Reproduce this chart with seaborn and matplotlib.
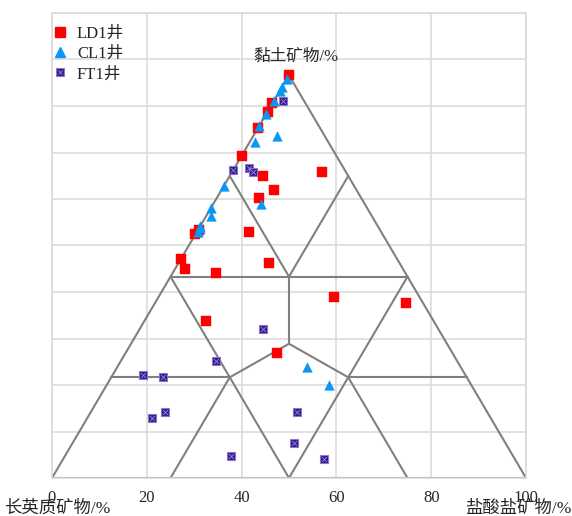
import numpy as np
import pandas as pd
import matplotlib
matplotlib.use("Agg")
import matplotlib.pyplot as plt
import seaborn as sns
from matplotlib.lines import Line2D

# ---- data: ternary compositions (%) : clay, carbonate ; felsic = 100 - clay - carbonate
ld1_clay = [100, 93, 91, 87, 80, 76, 75, 71.5, 69.5, 61, 60.5, 61.5, 54.5, 52, 51, 53.5, 39, 31, 45, 43.5]
ld1_carb = [0, 0, 0, 0, 0, 19, 7, 11, 9, 11, 0, 0.3, 0, 2, 9, 19, 13, 32, 37, 53]
cl1_clay = [99, 97, 96, 93.5, 90.5, 87.5, 83.5, 85, 72.5, 68, 67, 65, 62.5, 62, 61, 27.5, 23]
cl1_carb = [0, 0, 0, 0, 0, 0, 1, 5, 0, 10, 0, 1, 0, 0.3, 0.3, 40, 47]
ft1_clay = [93.5, 76.5, 77, 76, 37, 29, 25.5, 25, 15, 16.5, 5.5, 16.5, 8.7, 4.7]
ft1_carb = [2, 0, 3, 4.5, 26, 20, 6.5, 11, 13.5, 15.5, 35, 43.5, 46.7, 55]

series_names = ["LD1井", "CL1井", "FT1井"]
x_ticks = [0, 20, 40, 60, 80, 100]
label_top = "黏土矿物/%"
label_left = "长英质矿物/%"
label_right = "盐酸盐矿物/%"

# classification boundaries, as (clay, carbonate) endpoints
c3 = 100 / 3
boundaries = [
    [(100, 0), (0, 0), (0, 100), (100, 0)],
    [(50, 0), (50, 50)],
    [(25, 0), (25, 25)],
    [(25, 50), (25, 75)],
    [(50, 0), (0, 50)],
    [(50, 50), (0, 50)],
    [(0, 25), (25, 25)],
    [(0, 75), (25, 50)],
    [(50, 25), (c3, c3)],
    [(c3, c3), (25, 25)],
    [(c3, c3), (25, 50)],
    [(75, 0), (50, 25)],
    [(75, 25), (50, 25)],
]

H = np.sqrt(3) / 2


def to_xy(clay, carb):
    clay = np.asarray(clay, float)
    carb = np.asarray(carb, float)
    return carb + clay / 2, clay * H


frames = []
for name, cl, cb in [(series_names[0], ld1_clay, ld1_carb),
                     (series_names[1], cl1_clay, cl1_carb),
                     (series_names[2], ft1_clay, ft1_carb)]:
    x, y = to_xy(cl, cb)
    frames.append(pd.DataFrame({"well": name, "x": x, "y": y}))
df = pd.concat(frames, ignore_index=True)

sns.set_style("white")
plt.rcParams["font.family"] = ["Liberation Serif", "Noto Sans CJK SC", "DejaVu Sans"]

W, Hpx = 572, 516
fig = plt.figure(figsize=(W / 100, Hpx / 100), dpi=100)
ax = fig.add_axes([52 / W, 1 - 478 / Hpx, (526 - 52) / W, (478 - 13) / Hpx])
ax.set_xlim(0, 100)
ax.set_ylim(0, 100)
ax.set_xticks(x_ticks)
ax.set_yticks(range(0, 101, 10))
ax.grid(True, color="#d9d9d9", lw=1.1)
for s in ax.spines.values():
    s.set_color("#d9d9d9")
    s.set_linewidth(1.1)
ax.tick_params(axis="y", labelleft=False, length=0)
ax.tick_params(axis="x", length=0, pad=9, labelsize=12)

line_col = "#808080"
for seg in boundaries:
    cl = [p[0] for p in seg]
    cb = [p[1] for p in seg]
    x, y = to_xy(cl, cb)
    ax.plot(x, y, color=line_col, lw=1.5, zorder=2, solid_capstyle="round")

red = "#ff0000"
blue = "#0a96f5"
purple = "#36188c"
purple_edge = "#8a78d0"

d = df[df.well == series_names[0]]
sns.scatterplot(data=d, x="x", y="y", ax=ax, marker="s", s=42, color=red,
                edgecolor=red, linewidth=0.3, zorder=3, legend=False)
d = df[df.well == series_names[1]]
sns.scatterplot(data=d, x="x", y="y", ax=ax, marker="^", s=48, color=blue,
                edgecolor=blue, linewidth=0.3, zorder=4, legend=False)
d = df[df.well == series_names[2]]
sns.scatterplot(data=d, x="x", y="y", ax=ax, marker="s", s=34, color=purple,
                edgecolor=purple_edge, linewidth=0.8, zorder=5, legend=False)
sns.scatterplot(data=d, x="x", y="y", ax=ax, marker="x", s=12, color="#9a8ad8",
                linewidth=0.6, zorder=6, legend=False)
ax.set_xlabel("")
ax.set_ylabel("")

h1 = Line2D([], [], ls="", marker="s", ms=6.5, color=red)
h2 = Line2D([], [], ls="", marker="^", ms=7, color=blue)
h3a = Line2D([], [], ls="", marker="s", ms=5.8, color=purple, mec=purple_edge, mew=0.8)
h3b = Line2D([], [], ls="", marker="x", ms=3.5, color="#9a8ad8", mew=0.6)
fig.legend([h1, h2, (h3a, h3b)], series_names, loc="upper left",
           bbox_to_anchor=(52 / W, 1 - 26 / Hpx), frameon=False,
           fontsize=12, handlelength=1.0, handletextpad=0.5,
           borderpad=0, borderaxespad=0, labelspacing=0.25)

fig.text(296 / W, 1 - 57 / Hpx, label_top, ha="center", va="center", fontsize=12)
fig.text(4 / W, 1 - 509 / Hpx, label_left, ha="left", va="center", fontsize=12.5)
fig.text(571 / W, 1 - 509 / Hpx, label_right, ha="right", va="center", fontsize=12.5)

fig.savefig("out.png", dpi=100)
